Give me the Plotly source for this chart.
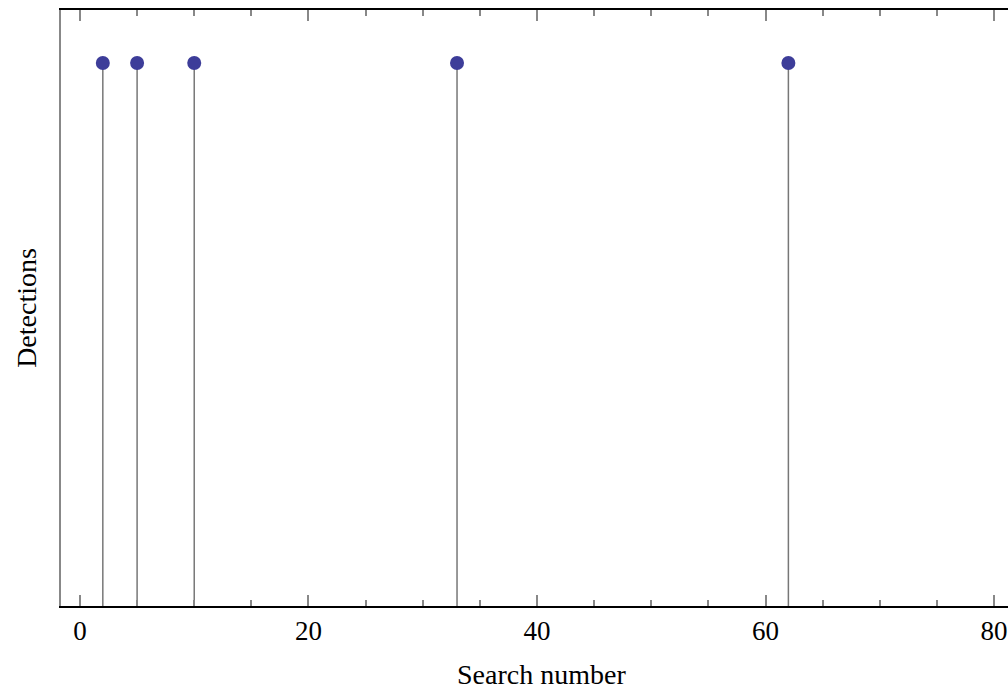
import plotly.graph_objects as go

search_numbers = [2, 5, 10, 33, 62]
detections = [1, 1, 1, 1, 1]
x_tick_vals = [0, 20, 40, 60, 80]
x_tick_text = ["0", "20", "40", "60", "80"]

FONT = "Liberation Serif"
stem_color = "#777777"
marker_color = "#3d3d99"

fig = go.Figure()
fig.add_trace(go.Scatter(
    x=search_numbers,
    y=detections,
    mode="markers",
    marker=dict(size=14, color=marker_color),
    error_y=dict(type="data", symmetric=False, array=[0] * len(detections),
                 arrayminus=detections, width=0, thickness=1.5, color=stem_color),
    showlegend=False,
    cliponaxis=False,
))

fig.update_layout(
    width=1008, height=691,
    margin=dict(l=61, r=0, t=10, b=85),
    paper_bgcolor="white", plot_bgcolor="white",
    font=dict(family=FONT, size=27, color="black"),
    xaxis=dict(
        range=[-1.66, 81.22],
        tickvals=x_tick_vals, ticktext=x_tick_text,
        ticks="inside", ticklen=11, tickwidth=1.5, tickcolor="#888888",
        minor=dict(dtick=5, tick0=0, ticks="inside", ticklen=6, tickwidth=1.5, tickcolor="#888888"),
        showline=True, linecolor="black", linewidth=1.5, mirror="ticks",
        showgrid=False, zeroline=False,
        tickfont=dict(family=FONT, size=27),
    ),
    yaxis=dict(
        range=[0, 1.0976],
        showticklabels=False, ticks="",
        showline=True, linecolor="#888888", linewidth=1.5, mirror=False,
        showgrid=False, zeroline=False,
        title=dict(text="Detections", font=dict(family=FONT, size=28), standoff=14),
    ),
    annotations=[dict(
        text="Search number", xref="paper", yref="paper",
        x=0.507, y=0.0, yshift=-51, xanchor="center", yanchor="top",
        showarrow=False, font=dict(family=FONT, size=28, color="black"),
    )],
)

fig.write_html("out.html")
